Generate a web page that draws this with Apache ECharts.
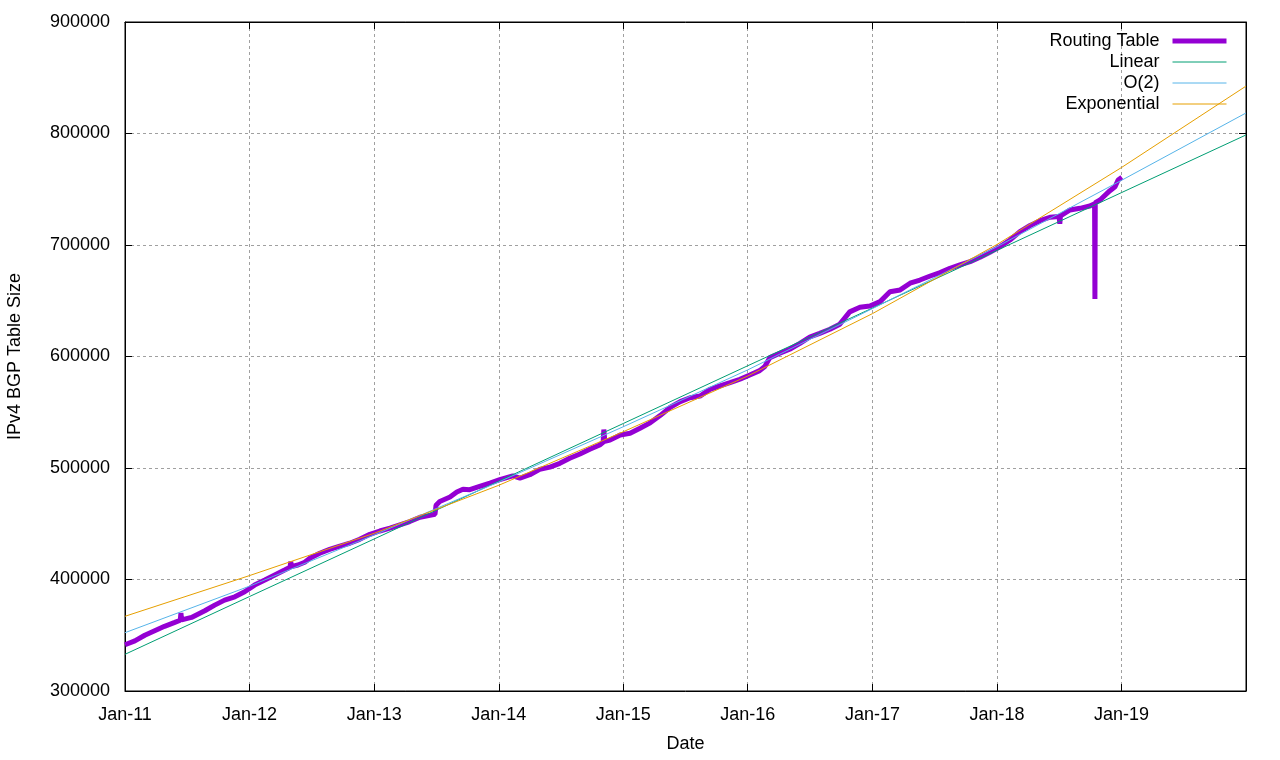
<!DOCTYPE html>
<html>
<head>
<meta charset="utf-8">
<style>html,body{margin:0;padding:0;background:#fff;}#c{width:1280px;height:760px;}</style>
<script src="https://cdn.jsdelivr.net/npm/echarts@6/dist/echarts.min.js"></script>
</head>
<body>
<div id="c"></div>
<script>
// ---- data ----
const routingDates = [
 '2011-01-01','2011-01-30','2011-02-28','2011-03-29','2011-04-27','2011-05-27','2011-06-12','2011-06-14','2011-06-16','2011-07-15',
 '2011-08-23','2011-09-21','2011-10-20','2011-11-19','2011-12-18','2012-01-16','2012-02-15','2012-03-15','2012-04-13','2012-04-29',
 '2012-05-01','2012-05-03','2012-05-22','2012-06-11','2012-06-26','2012-07-25','2012-08-23','2012-09-22','2012-10-21','2012-11-19',
 '2012-12-19','2013-01-17','2013-02-16','2013-03-17','2013-04-15','2013-05-15','2013-06-13','2013-06-28','2013-07-01','2013-07-12',
 '2013-08-11','2013-08-31','2013-09-18','2013-10-08','2013-11-06','2013-12-06','2014-01-04','2014-02-11','2014-03-04','2014-04-02',
 '2014-05-01','2014-05-31','2014-06-29','2014-07-28','2014-08-27','2014-09-25','2014-10-24','2014-11-03','2014-11-05','2014-11-08',
 '2014-11-23','2014-12-23','2015-01-21','2015-02-19','2015-03-21','2015-04-19','2015-05-19','2015-06-17','2015-07-16','2015-08-14',
 '2015-09-12','2015-10-12','2015-11-10','2015-12-09','2016-01-07','2016-02-05','2016-02-20','2016-03-06','2016-04-04','2016-05-03',
 '2016-06-02','2016-07-01','2016-07-30','2016-08-29','2016-09-27','2016-10-26','2016-11-25','2016-12-24','2017-01-23','2017-02-21',
 '2017-03-23','2017-04-21','2017-05-20','2017-06-19','2017-07-18','2017-08-16','2017-09-14','2017-10-14','2017-11-12','2017-12-11',
 '2018-01-10','2018-02-08','2018-03-09','2018-04-08','2018-05-07','2018-06-05','2018-07-02','2018-07-04','2018-07-06','2018-08-03',
 '2018-09-01','2018-09-30','2018-10-14','2018-10-15','2018-10-16','2018-10-30','2018-11-28','2018-12-13','2018-12-22','2019-01-02'
];
const routingValues = [
 341500,345000,350000,354000,358000,361500,363500,370000,363800,366000,
 372000,377000,381500,384500,389000,395000,399500,404000,408500,411000,
 416000,411500,413000,415500,419000,423500,427000,430000,432500,436000,
 440500,443500,446000,449000,452000,455800,457500,458500,466500,470000,
 474000,478500,481000,480500,483500,486500,489500,493000,491000,494000,
 498800,500800,504200,508700,512600,516800,520600,523000,534500,524000,
 525000,529600,531100,535600,540500,547000,554500,559500,563000,564500,
 570500,573600,576500,579600,583400,587300,591000,599000,602900,606500,
 611800,617500,620800,624400,629000,640000,644100,645300,649200,658000,
 659700,665700,668600,672200,675200,679100,682100,685100,689000,693500,
 698500,704500,712000,717500,721800,724900,725500,719000,726000,731400,
 732900,735000,737000,651600,738000,740400,748700,752300,758300,760700
];
const fitDates = ['2011-01-01','2012-01-01','2013-01-01','2014-01-01','2015-01-01','2016-01-01','2017-01-01','2018-01-01','2019-01-01','2020-01-01'];
const linearValues = [332900,384700,436400,488200,539900,591700,643500,695200,747000,798700];
const o2Values     = [352300,394000,440000,487500,537000,588000,643000,698500,758000,818400];
const expValues    = [367000,403500,441500,484500,532500,582500,638500,700500,769500,842500];
const yTicks = [300000,400000,500000,600000,700000,800000,900000];
const seriesNames = ['Routing Table','Linear','O(2)','Exponential'];

// ---- build ----
const zip = (d, v) => d.map((x, i) => [x, v[i]]);
const FONT = '"Liberation Sans", Arial, sans-serif';
const FS = 18;
const xMin = new Date(2011, 0, 1).getTime();
const xMax = new Date(2020, 0, 1).getTime();
const DAY = 86400000;

const chart = echarts.init(document.getElementById('c'), null, {renderer: 'canvas'});
const gridLine = {show: true, lineStyle: {color: '#a0a0a0', width: 1, type: [3, 3]}};
const tick = {show: true, inside: true, length: 7, lineStyle: {color: '#000', width: 1}};
const yearFmt = v => 'Jan-' + String(new Date(v).getFullYear()).slice(2);

chart.setOption({
  animation: false,
  backgroundColor: '#fff',
  textStyle: {fontFamily: FONT},
  grid: {left: 125, right: 34, top: 22, bottom: 69, containLabel: false, outerBoundsMode: 'none',
         show: true, borderColor: '#000', borderWidth: 1, backgroundColor: 'transparent'},
  legend: {
    orient: 'vertical', right: 46, top: 27, align: 'right',
    itemWidth: 54, itemHeight: 14, itemGap: 3,
    itemStyle: {color: 'transparent', borderColor: 'transparent', borderWidth: 0},
    lineStyle: {width: 'inherit'},
    textStyle: {fontSize: FS, color: '#000', fontFamily: FONT, padding: [0, 8, 0, 0]},
    data: seriesNames
  },
  xAxis: [{
    type: 'time', min: xMin, max: xMax,
    minInterval: 365 * DAY, maxInterval: 366 * DAY,
    name: 'Date', nameLocation: 'middle', nameGap: 44,
    nameTextStyle: {fontSize: FS, color: '#000', fontFamily: FONT},
    axisLine: {show: true, lineStyle: {color: '#000'}},
    axisTick: tick,
    axisLabel: {fontSize: FS, color: '#000', fontFamily: FONT, margin: 15, formatter: yearFmt, showMaxLabel: false, hideOverlap: false},
    splitLine: gridLine
  }, {
    type: 'time', position: 'top', min: xMin, max: xMax,
    minInterval: 365 * DAY, maxInterval: 366 * DAY,
    axisLine: {show: true, lineStyle: {color: '#000'}},
    axisTick: tick, axisLabel: {show: false}, splitLine: {show: false}
  }],
  yAxis: [{
    type: 'value', min: yTicks[0], max: yTicks[yTicks.length - 1], interval: 100000,
    name: 'IPv4 BGP Table Size', nameLocation: 'middle', nameGap: 101, nameRotate: 90,
    nameTextStyle: {fontSize: FS, color: '#000', fontFamily: FONT},
    axisLine: {show: true, lineStyle: {color: '#000'}},
    axisTick: tick,
    axisLabel: {fontSize: FS, color: '#000', fontFamily: FONT, margin: 15, formatter: v => String(v)},
    splitLine: gridLine
  }, {
    type: 'value', position: 'right', min: yTicks[0], max: yTicks[yTicks.length - 1], interval: 100000,
    axisLine: {show: true, lineStyle: {color: '#000'}},
    axisTick: tick, axisLabel: {show: false}, splitLine: {show: false}
  }],
  series: [
    {name: seriesNames[0], type: 'line', data: zip(routingDates, routingValues), showSymbol: false, symbol: 'none',
     lineStyle: {color: '#9400d3', width: 5}, itemStyle: {color: '#9400d3'}, z: 2},
    {name: seriesNames[1], type: 'line', data: zip(fitDates, linearValues), showSymbol: false, symbol: 'none',
     lineStyle: {color: '#009e73', width: 1}, itemStyle: {color: '#009e73'}, z: 3},
    {name: seriesNames[2], type: 'line', data: zip(fitDates, o2Values), showSymbol: false, symbol: 'none',
     lineStyle: {color: '#56b4e9', width: 1}, itemStyle: {color: '#56b4e9'}, z: 4},
    {name: seriesNames[3], type: 'line', data: zip(fitDates, expValues), showSymbol: false, symbol: 'none',
     lineStyle: {color: '#e69f00', width: 1}, itemStyle: {color: '#e69f00'}, z: 5}
  ]
});
</script>
</body>
</html>
